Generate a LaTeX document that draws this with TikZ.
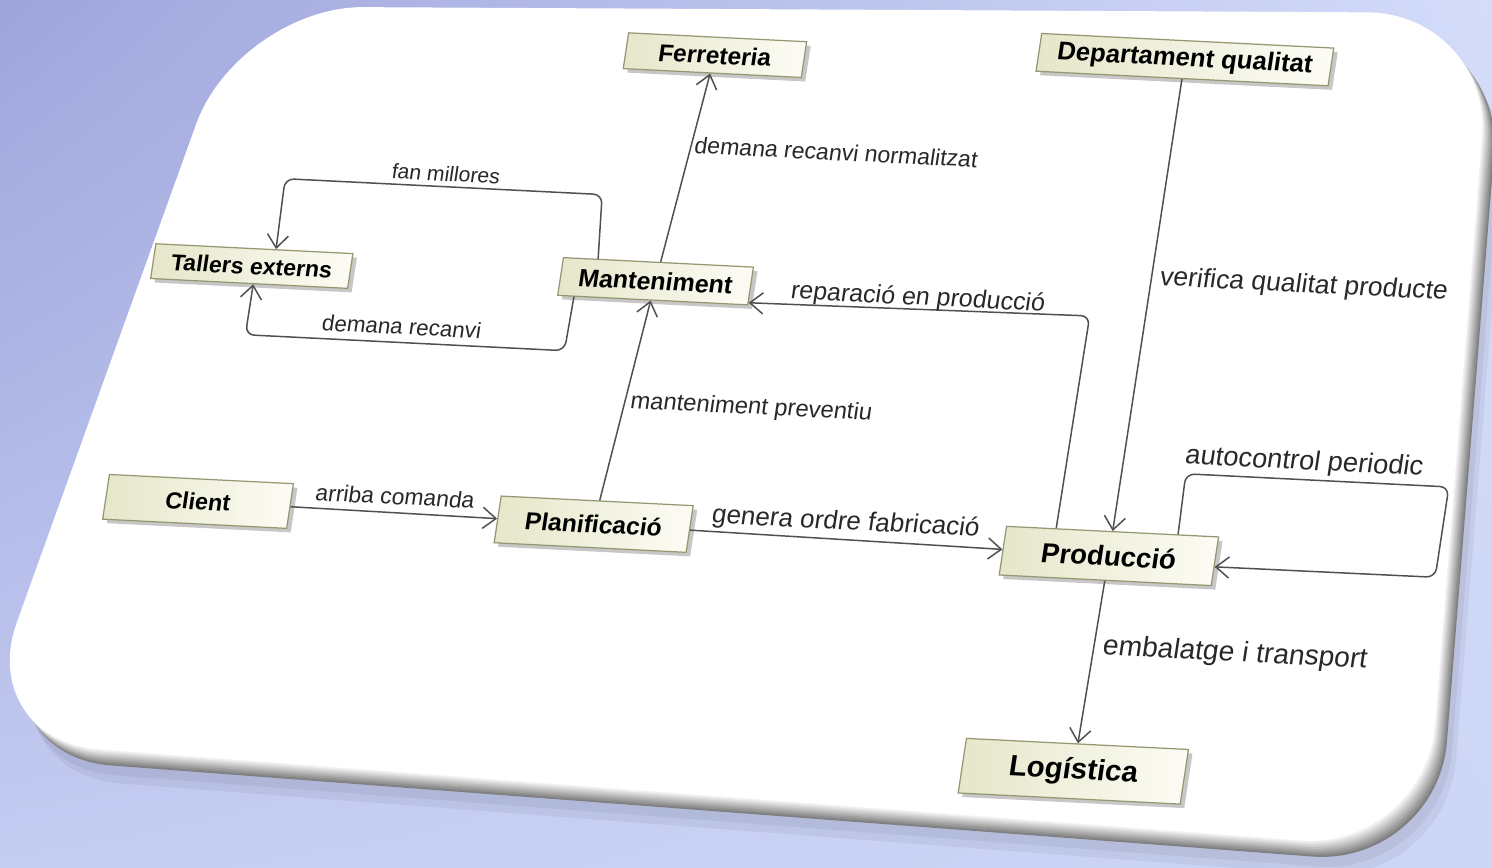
\documentclass[tikz,border=0pt]{standalone}
\usepackage{fontspec}
\setmainfont{Liberation Sans}
\usetikzlibrary{arrows.meta,shadows,shadings}

\definecolor{bgul}{RGB}{158,165,219}
\definecolor{bgur}{RGB}{212,220,250}
\definecolor{bgll}{RGB}{196,204,242}
\definecolor{bglr}{RGB}{205,214,246}
\definecolor{lineg}{RGB}{80,80,80}
\definecolor{boxline}{RGB}{150,150,112}
\definecolor{boxl}{RGB}{230,230,202}
\definecolor{boxr}{RGB}{252,252,245}
\definecolor{txtg}{RGB}{40,40,40}

\tikzset{
  entity/.style={draw=boxline, line width=0.7pt, left color=boxl, right color=boxr,
    drop shadow={shadow xshift=2.3pt, shadow yshift=-2.3pt, fill=black, opacity=0.22},
    inner sep=0pt, font=\bfseries\fontsize{#1}{#1}\selectfont},
  lbl/.style={text=txtg, inner sep=0pt, font=\fontsize{#1}{#1}\selectfont},
  flow/.style={draw=lineg, line width=0.85pt, rounded corners=5pt,
    -{Straight Barb[length=7.5pt,width=12pt]}}
}

\begin{document}
\begin{tikzpicture}
\useasboundingbox (0,0) rectangle (29.84,17.34);
\clip (0,0) rectangle (29.84,17.34);
% background and card
\shade[upper left=bgul, upper right=bgur, lower left=bgll, lower right=bglr] (0,0) rectangle (29.84,17.34);
\foreach \d in {0.36,0.2}
  \fill[black, opacity=0.05, shift={(\d*0.5,-\d)}, rounded corners=2.5cm]
    (5.01,16.89) -- (30.08,16.76) -- (28.74,0.02) -- (-0.27,2.22) -- cycle;
\foreach \i in {0,...,8}{
  \pgfmathsetmacro{\w}{\i*12.5}
  \fill[white!\w!gray, shift={(-0.03*\i,0.04*\i)}, rounded corners=2.5cm]
    (5.01,16.89) -- (30.08,16.76) -- (28.74,0.02) -- (-0.27,2.22) -- cycle;
}

\begin{scope}[shift={(15,8.74)}, yslant=-0.05, xslant=0.15, x=0.02cm, y=0.02cm, transform shape]
\node[entity=13.3, minimum width=3.68cm, minimum height=0.9cm]  (client)  at (-537,-99) {Client};
\node[entity=14,   minimum width=3.84cm, minimum height=0.94cm] (plan)    at (-141,-102) {Planificació};
\node[entity=15.7, minimum width=4.24cm, minimum height=0.98cm] (prod)    at (375,-108) {Producció};
\node[entity=16.7, minimum width=4.44cm, minimum height=1.1cm]  (log)     at (372,-325) {Logística};
\node[entity=14.2, minimum width=3.8cm,  minimum height=0.76cm] (mant)    at (-116,144) {Manteniment};
\node[entity=13.1, minimum width=3.94cm, minimum height=0.7cm]  (tallers) at (-519,139) {Tallers externs};
\node[entity=13.9, minimum width=3.56cm, minimum height=0.72cm] (ferr)    at (-91,373) {Ferreteria};
\node[entity=14.6, minimum width=5.84cm, minimum height=0.76cm] (dept)    at (376,392) {Departament qualitat};

\coordinate (fanR)  at (-182,228);
\coordinate (fanL)  at (-499,228);
\coordinate (recR)  at (-196,70);
\coordinate (recL)  at (-515,70);
\coordinate (repC)  at (320,131);
\coordinate (autoA) at (439,-22);
\coordinate (autoB) at (702,-22);
\coordinate (autoC) at (702,-113);

\draw[flow] (client) -- (plan);
\draw[flow] (plan) -- (prod);
\draw[flow] (plan) -- (mant);
\draw[flow] (mant) -- (ferr);
\draw[flow] (dept) -- (prod);
\draw[flow] (prod) -- (log);
\draw[flow] (mant.162) -- (fanR) -- (fanL) -- (tallers.40);
\draw[flow] (mant.194) -- (recR) -- (recL) -- (tallers.283);
\draw[flow] (prod.156) -- (repC) -- (mant.350);
\draw[flow] (prod.21) -- (autoA) -- (autoB) -- (autoC) -- (prod.357);

\node[lbl=13]   (lcom)  at (-342,-84) {arriba comanda};
\node[lbl=14.8] (lfab)  at (109,-88)  {genera ordre fabricació};
\node[lbl=13.5] (lprev) at (-2,22)    {manteniment preventiu};
\node[lbl=13.1] (lnorm) at (44,282)   {demana recanvi normalitzat};
\node[lbl=12]   (lmil)  at (-340,241) {fan millores};
\node[lbl=12.7] (lrec)  at (-361,86)  {demana recanvi};
\node[lbl=14.2] (lrep)  at (147,140)  {reparació en producció};
\node[lbl=15.1] (lver)  at (528,172)  {verifica qualitat producte};
\node[lbl=15.5] (lauto) at (555,-5)   {autocontrol periodic};
\node[lbl=16]   (lemb)  at (515,-200) {embalatge i transport};
\end{scope}
\end{tikzpicture}
\end{document}
